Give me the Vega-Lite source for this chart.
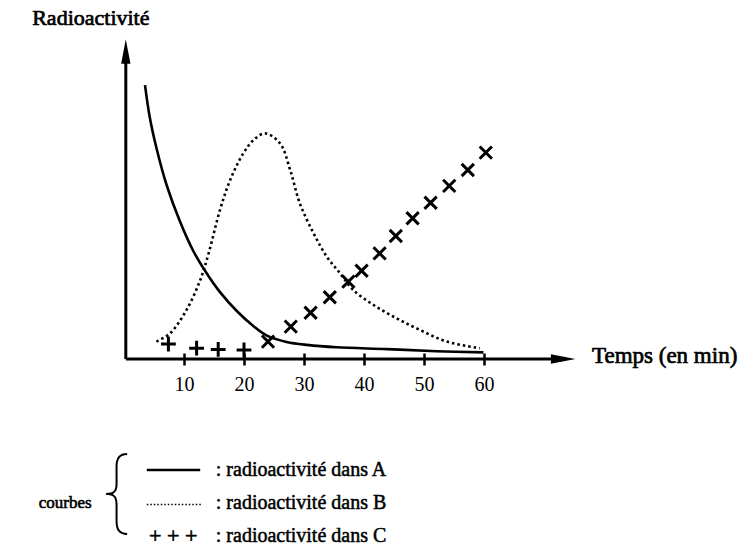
{
  "$schema": "https://vega.github.io/schema/vega-lite/v6.json",
  "autosize": {"type": "none"},
  "padding": {"left": 124, "top": 44, "right": 174, "bottom": 194},
  "width": 450,
  "height": 315,
  "background": "white",
  "config": {"view": {"stroke": null}, "font": "Liberation Serif"},
  "datasets": {
    "courbes": [
      {"serie": "A", "t": 3.5, "r": 91.3},
      {"serie": "A", "t": 4.3, "r": 80.5},
      {"serie": "A", "t": 5.45, "r": 70},
      {"serie": "A", "t": 7.1, "r": 58},
      {"serie": "A", "t": 9.3, "r": 46},
      {"serie": "A", "t": 11.55, "r": 36},
      {"serie": "A", "t": 13.8, "r": 28.5},
      {"serie": "A", "t": 16, "r": 22.3},
      {"serie": "A", "t": 18.8, "r": 16},
      {"serie": "A", "t": 21.55, "r": 11},
      {"serie": "A", "t": 23.8, "r": 7.8},
      {"serie": "A", "t": 27.1, "r": 5.7},
      {"serie": "A", "t": 30.5, "r": 4.7},
      {"serie": "A", "t": 35.4, "r": 3.9},
      {"serie": "A", "t": 43.8, "r": 3.3},
      {"serie": "A", "t": 52.1, "r": 2.6},
      {"serie": "A", "t": 59.9, "r": 2.2},
      {"serie": "B", "t": 5.4, "r": 5.8},
      {"serie": "B", "t": 7.7, "r": 8.6},
      {"serie": "B", "t": 10.4, "r": 16.3},
      {"serie": "B", "t": 12.7, "r": 26.3},
      {"serie": "B", "t": 14.1, "r": 35.2},
      {"serie": "B", "t": 16, "r": 49.7},
      {"serie": "B", "t": 17.7, "r": 59.7},
      {"serie": "B", "t": 19.9, "r": 68.6},
      {"serie": "B", "t": 21.6, "r": 73},
      {"serie": "B", "t": 23.5, "r": 75.2},
      {"serie": "B", "t": 26, "r": 71.9},
      {"serie": "B", "t": 27.7, "r": 63},
      {"serie": "B", "t": 29.3, "r": 51.9},
      {"serie": "B", "t": 31.6, "r": 41.9},
      {"serie": "B", "t": 33.8, "r": 34.1},
      {"serie": "B", "t": 36, "r": 28.6},
      {"serie": "B", "t": 38.2, "r": 23},
      {"serie": "B", "t": 41.6, "r": 18},
      {"serie": "B", "t": 45.4, "r": 13.6},
      {"serie": "B", "t": 49.3, "r": 9.7},
      {"serie": "B", "t": 53.8, "r": 5.8},
      {"serie": "B", "t": 59.3, "r": 3.6},
      {"serie": "C", "t": 7.4, "r": 5},
      {"serie": "C", "t": 12.1, "r": 3.6},
      {"serie": "C", "t": 15.7, "r": 3.2},
      {"serie": "C", "t": 20, "r": 3},
      {"serie": "C", "t": 24, "r": 5.8},
      {"serie": "C", "t": 27.8, "r": 10.8},
      {"serie": "C", "t": 31.1, "r": 15.4},
      {"serie": "C", "t": 34.3, "r": 20.6},
      {"serie": "C", "t": 37.4, "r": 25.8},
      {"serie": "C", "t": 39.6, "r": 29.4},
      {"serie": "C", "t": 42.6, "r": 35.2},
      {"serie": "C", "t": 45.3, "r": 41},
      {"serie": "C", "t": 48.1, "r": 46.9},
      {"serie": "C", "t": 51.1, "r": 52.1},
      {"serie": "C", "t": 54.2, "r": 57.7},
      {"serie": "C", "t": 57.3, "r": 63},
      {"serie": "C", "t": 60.3, "r": 68.8}
    ],
    "un": [{}]
  },
  "layer": [
    {
      "data": {"name": "courbes"},
      "transform": [{"filter": "datum.serie === 'A'"}],
      "mark": {"type": "line", "color": "black", "strokeWidth": 2.6, "interpolate": "catmull-rom"},
      "encoding": {
        "x": {"field": "t", "type": "quantitative", "scale": {"domain": [0, 75], "nice": false},
          "axis": {"values": [10, 20, 30, 40, 50, 60], "domain": false, "grid": false, "title": null,
            "tickSize": 12, "tickWidth": 2.5, "tickColor": "black", "offset": -6,
            "labelFont": "Liberation Serif", "labelFontSize": 20, "labelColor": "black", "labelPadding": 9}},
        "y": {"field": "r", "type": "quantitative", "scale": {"domain": [0, 105], "nice": false}, "axis": null}
      }
    },
    {
      "data": {"name": "courbes"},
      "transform": [{"filter": "datum.serie === 'B'"}],
      "mark": {"type": "line", "color": "black", "strokeWidth": 2.6, "strokeDash": [2.5, 3], "interpolate": "catmull-rom"},
      "encoding": {
        "x": {"field": "t", "type": "quantitative"},
        "y": {"field": "r", "type": "quantitative"}
      }
    },
    {
      "data": {"name": "courbes"},
      "transform": [{"filter": "datum.serie === 'C' && datum.t <= 21"}],
      "mark": {"type": "point", "shape": "M-1,0L1,0M0,-1L0,1", "filled": false, "color": "black", "strokeWidth": 3, "size": 220, "opacity": 1},
      "encoding": {
        "x": {"field": "t", "type": "quantitative"},
        "y": {"field": "r", "type": "quantitative"}
      }
    },
    {
      "data": {"name": "courbes"},
      "transform": [{"filter": "datum.serie === 'C' && datum.t > 21"}],
      "mark": {"type": "point", "shape": "M-1,-1L1,1M1,-1L-1,1", "filled": false, "color": "black", "strokeWidth": 3, "size": 150, "opacity": 1},
      "encoding": {
        "x": {"field": "t", "type": "quantitative"},
        "y": {"field": "r", "type": "quantitative"}
      }
    },
    {
      "data": {"name": "un"},
      "mark": {"type": "rule", "color": "black", "strokeWidth": 3},
      "encoding": {"x": {"datum": 0.3}, "y": {"datum": 0}, "y2": {"datum": 101}}
    },
    {
      "data": {"name": "un"},
      "mark": {"type": "rule", "color": "black", "strokeWidth": 3},
      "encoding": {"x": {"datum": 0.3}, "x2": {"datum": 72}, "y": {"datum": 0}}
    },
    {
      "data": {"name": "un"},
      "mark": {"type": "point", "shape": "M0,-1L0.38,1L-0.38,1Z", "filled": true, "color": "black", "size": 600, "opacity": 1},
      "encoding": {"x": {"datum": 0.3}, "y": {"datum": 102.5}}
    },
    {
      "data": {"name": "un"},
      "mark": {"type": "point", "shape": "M1,0L-1,0.38L-1,-0.38Z", "filled": true, "color": "black", "size": 600, "opacity": 1},
      "encoding": {"x": {"datum": 73.2}, "y": {"datum": 0}}
    },
    {
      "data": {"name": "un"},
      "mark": {"type": "text", "text": "Radioactivité", "font": "Liberation Serif", "fontSize": 22, "stroke": "black", "strokeWidth": 0.7, "align": "left", "baseline": "middle", "color": "black"},
      "encoding": {"x": {"datum": -15.3}, "y": {"datum": 113.7}}
    },
    {
      "data": {"name": "un"},
      "mark": {"type": "text", "text": "Temps (en min)", "font": "Liberation Serif", "fontSize": 23, "stroke": "black", "strokeWidth": 0.7, "align": "left", "baseline": "middle", "color": "black"},
      "encoding": {"x": {"datum": 78}, "y": {"datum": 1}}
    },
    {
      "data": {"name": "un"},
      "mark": {"type": "text", "text": "courbes", "font": "Liberation Serif", "fontSize": 17, "stroke": "black", "strokeWidth": 0.6, "align": "center", "baseline": "middle", "color": "black"},
      "encoding": {"x": {"datum": -9.8}, "y": {"datum": -48}}
    },
    {
      "data": {"name": "un"},
      "mark": {"type": "text", "text": "{", "font": "Inter", "fontWeight": 100, "fontSize": 90, "align": "center", "baseline": "middle", "color": "black"},
      "encoding": {"x": {"datum": -1.3}, "y": {"datum": -45.7}}
    },
    {
      "data": {"name": "un"},
      "mark": {"type": "rule", "color": "black", "strokeWidth": 2.5},
      "encoding": {"x": {"datum": 3.8}, "x2": {"datum": 12.7}, "y": {"datum": -37}}
    },
    {
      "data": {"name": "un"},
      "mark": {"type": "rule", "color": "black", "strokeWidth": 1.5, "strokeDash": [1.5, 2]},
      "encoding": {"x": {"datum": 3.8}, "x2": {"datum": 12.9}, "y": {"datum": -48.5}}
    },
    {
      "data": {"name": "un"},
      "mark": {"type": "text", "text": "+ + +", "font": "Liberation Serif", "fontSize": 22, "stroke": "black", "strokeWidth": 0.6, "align": "center", "baseline": "middle", "color": "black"},
      "encoding": {"x": {"datum": 8.2}, "y": {"datum": -59}}
    },
    {
      "data": {"name": "un"},
      "mark": {"type": "text", "text": ": radioactivité dans A", "font": "Liberation Serif", "fontSize": 20, "stroke": "black", "strokeWidth": 0.5, "align": "left", "baseline": "middle", "color": "black"},
      "encoding": {"x": {"datum": 15.3}, "y": {"datum": -37}}
    },
    {
      "data": {"name": "un"},
      "mark": {"type": "text", "text": ": radioactivité dans B", "font": "Liberation Serif", "fontSize": 20, "stroke": "black", "strokeWidth": 0.5, "align": "left", "baseline": "middle", "color": "black"},
      "encoding": {"x": {"datum": 15.3}, "y": {"datum": -48}}
    },
    {
      "data": {"name": "un"},
      "mark": {"type": "text", "text": ": radioactivité dans C", "font": "Liberation Serif", "fontSize": 20, "stroke": "black", "strokeWidth": 0.5, "align": "left", "baseline": "middle", "color": "black"},
      "encoding": {"x": {"datum": 15.3}, "y": {"datum": -59}}
    }
  ]
}
